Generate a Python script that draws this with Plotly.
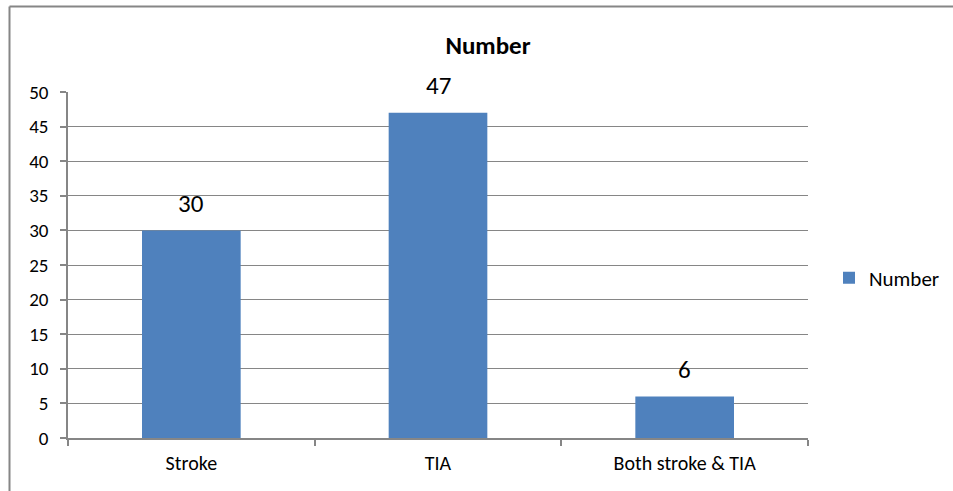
import plotly.graph_objects as go

categories = ["Stroke", "TIA", "Both stroke & TIA"]
values = [30, 47, 6]
series_name = "Number"
y_ticks = [0, 5, 10, 15, 20, 25, 30, 35, 40, 45, 50]

W, H = 953, 491
L, R, T, B = 68, 145, 92, 53
pw, ph = W - L - R, H - T - B

grey = "#868686"
bar_color = "#4F81BD"
font_family = "Carlito, Lato, 'Open Sans', sans-serif"

fig = go.Figure()
fig.add_trace(go.Bar(
    x=categories, y=values, name=series_name,
    marker=dict(color=bar_color, line=dict(width=0)),
))

# value labels above each bar
for c, v in zip(categories, values):
    fig.add_annotation(x=c, y=v, text=str(v), showarrow=False,
                       yanchor="middle", yshift=27,
                       font=dict(size=25, color="black", family=font_family))

# outer chart border (left and top edges visible)
def px_x(p):
    return (p - L) / pw

def px_y(p):
    return (H - B - p) / ph

fig.add_shape(type="line", xref="paper", yref="paper",
              x0=px_x(9.5), x1=px_x(9.5), y0=px_y(6.5), y1=px_y(600),
              line=dict(color=grey, width=2))
fig.add_shape(type="line", xref="paper", yref="paper",
              x0=px_x(9.5), x1=px_x(1100), y0=px_y(6.5), y1=px_y(6.5),
              line=dict(color=grey, width=2))

fig.update_layout(
    width=W, height=H,
    margin=dict(l=L, r=R, t=T, b=B, pad=0, autoexpand=False),
    paper_bgcolor="white", plot_bgcolor="white",
    bargap=0.6,
    font=dict(family=font_family, size=19, color="black"),
    title=dict(text="<b>Number</b>", x=488 / W, xref="container", xanchor="center",
               y=1 - 45 / H, yref="container", yanchor="middle",
               font=dict(size=25, color="black", family=font_family)),
    showlegend=True,
    legend=dict(x=px_x(829), y=px_y(278), xanchor="left", yanchor="middle",
                font=dict(size=21, family=font_family), bgcolor="rgba(0,0,0,0)",
                itemwidth=30),
    xaxis=dict(showline=True, linecolor=grey, linewidth=1.5,
               ticks="outside", tickson="boundaries", ticklen=6, tickcolor=grey,
               tickwidth=1.5, showgrid=False, ticklabelstandoff=6,
               tickfont=dict(size=20, family=font_family)),
    yaxis=dict(range=[0, 50], tickvals=y_ticks, showline=True, linecolor=grey,
               linewidth=1.5, ticks="outside", ticklen=6, tickcolor=grey,
               tickwidth=1.5, showgrid=True, gridcolor=grey, gridwidth=1.2,
               zeroline=False, ticklabelstandoff=8,
               tickfont=dict(size=19, family=font_family)),
)

fig.write_html("out.html")
